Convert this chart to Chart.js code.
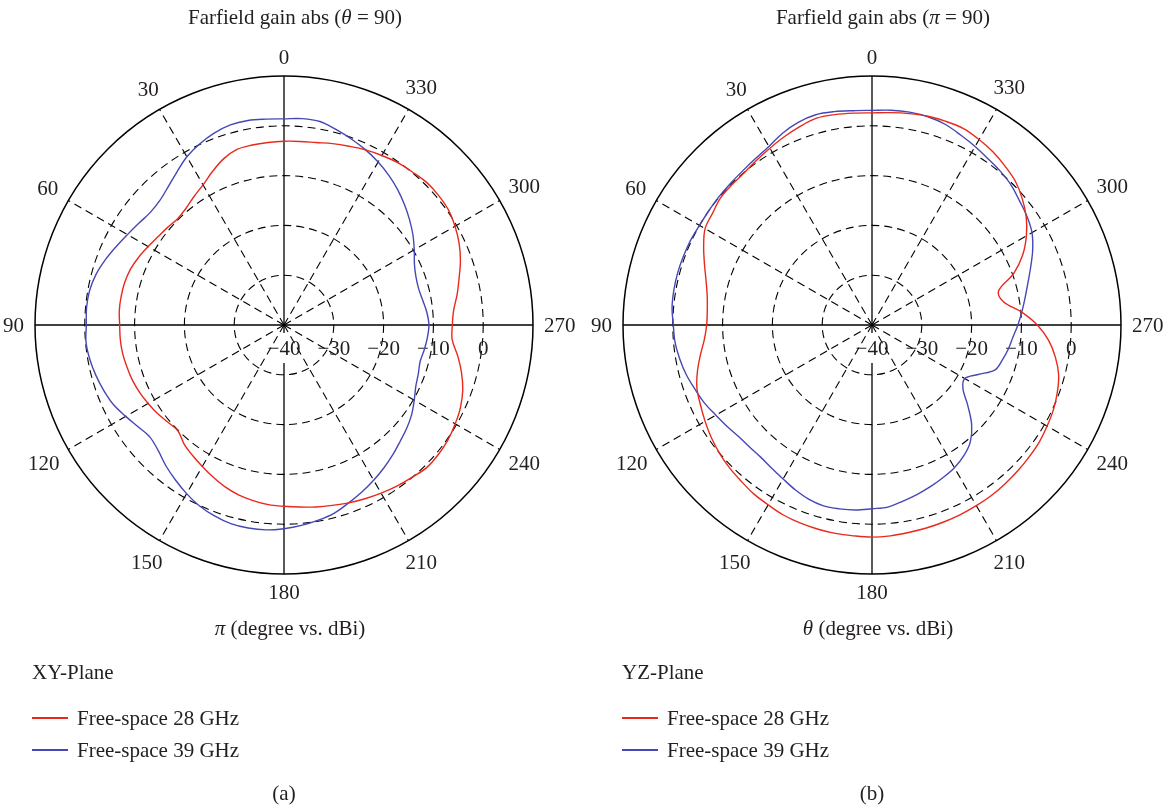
<!DOCTYPE html>
<html>
<head>
<meta charset="utf-8">
<script src="https://cdn.jsdelivr.net/npm/chart.js@4"></script>
<style>
html,body{margin:0;padding:0;background:#fff;}
#wrap{position:relative;width:1164px;height:808px;overflow:hidden;font-family:"Liberation Serif","DejaVu Serif",serif;color:#231f20;}
canvas{position:absolute;top:0;}
.t{position:absolute;font-size:21px;white-space:nowrap;transform:translate(-50%,-50%);line-height:1;}
.l{position:absolute;font-size:21px;white-space:nowrap;transform:translateY(-50%);line-height:1;}
.sw{position:absolute;height:2px;width:36px;}
</style>
</head>
<body>
<div id="wrap">
  <canvas id="c1" width="582" height="808" style="left:0;width:582px;height:808px"></canvas>
  <canvas id="c2" width="582" height="808" style="left:582px;width:582px;height:808px"></canvas>
</div>
<script>
// ---- categories: angle in degrees (0..355, step 5) ----
const angles = Array.from({length: 72}, (_, i) => i * 5);

// ---- gain values (dBi), one per angle ----
// (a) XY-plane, phi sweep
const xy28 = [
  -3.1,-3.2,-3.3,-3.5,-4.5,-6.0,-7.5,-8.5,-9.4,-9.8,-9.5,-9.1,
  -8.5,-7.8,-7.2,-6.9,-6.8,-6.8,-7.0,-7.0,-7.1,-7.35,-7.6,-8.0,
  -8.5,-9.0,-9.6,-9.9,-8.8,-8.0,-7.2,-6.3,-5.4,-4.7,-4.2,-3.8,
  -3.6,-3.3,-2.9,-2.5,-2.0,-1.5,-1.0,-0.5,-0.05,0.5,0.45,0.2,
  -0.3,-0.9,-1.8,-3.1,-4.6,-6.1,-6.2,-5.8,-4.7,-3.6,-2.3,-1.2,
  -0.35,0.3,0.5,0.5,0.1,-0.2,-0.7,-1.2,-1.8,-2.3,-2.8,-3.0
];
const xy39 = [
  1.4,1.5,1.7,1.6,1.0,0.1,-1.0,-2.5,-3.8,-4.7,-4.9,-4.4,
  -3.7,-2.8,-1.8,-0.9,-0.35,-0.2,-0.3,-0.1,-0.4,-0.9,-1.5,-2.2,
  -3.3,-4.3,-4.9,-4.3,-3.1,-2.0,-0.9,0.1,0.8,1.3,1.4,1.3,
  0.9,0.4,-0.2,-0.9,-2.0,-3.0,-4.0,-5.0,-6.0,-7.0,-7.8,-8.7,
  -9.8,-10.8,-11.3,-11.7,-11.4,-11.1,-10.9,-11.2,-11.7,-12.0,-11.8,-11.1,
  -9.8,-8.4,-7.1,-5.8,-4.5,-3.3,-2.2,-1.2,-0.3,0.6,1.5,1.6
];
// (b) YZ-plane, theta sweep
const yz28 = [
  2.6,2.7,2.9,3.0,2.4,1.7,1.0,0.4,-0.1,-0.2,-0.3,-0.9,
  -1.3,-2.7,-4.2,-5.5,-6.4,-6.8,-6.8,-6.2,-5.0,-3.7,-2.6,-2.0,
  -1.3,-0.6,0.0,0.5,0.9,1.4,1.7,2.1,2.3,2.4,2.5,2.5,
  2.6,2.5,2.3,2.2,2.1,2.0,1.9,1.8,1.6,1.4,1.2,1.0,
  0.6,0.2,-0.4,-1.2,-2.6,-4.4,-6.8,-9.9,-13.2,-13.7,-9.7,-6.6,
  -4.2,-2.2,-0.6,0.75,1.6,2.4,3.0,3.5,3.5,3.4,3.1,2.8
];
const yz39 = [
  3.1,3.2,3.5,3.7,3.3,2.5,1.4,0.8,0.4,0.2,0.1,0.0,
  0.0,0.2,0.3,0.4,0.4,0.3,-0.1,-0.3,-0.8,-1.4,-2.2,-2.9,
  -3.8,-4.5,-5.1,-5.3,-5.3,-4.9,-4.3,-3.5,-2.8,-2.4,-2.5,-2.7,
  -3.1,-3.3,-4.1,-4.8,-5.5,-6.2,-6.9,-7.9,-9.3,-11.7,-14.9,-17.7,
  -18.5,-16.5,-13.7,-12.9,-12.2,-11.6,-10.7,-9.8,-8.8,-7.6,-6.1,-4.4,
  -2.9,-2.0,-1.3,-0.4,0.2,0.7,1.4,2.1,2.9,3.3,3.4,3.3
];

// ---- tick labels ----
const ringTicks = [-40, -30, -20, -10, 0];
const angleTicks = [0, 30, 60, 90, 120, 150, 180, 210, 240, 270, 300, 330];
const seriesNames = ['Free-space 28 GHz', 'Free-space 39 GHz'];
const seriesColors = ['#e8291c', '#4548b4'];

const FONT = '"Liberation Serif","DejaVu Serif",serif';
const TEXT = '#231f20';

const textPlugin = {
  id: 'polarText',
  beforeDatasetsDraw(chart) {
    const s = chart.scales.r;
    const ctx = chart.ctx;
    ctx.save();
    ctx.font = '21px ' + FONT;
    ctx.fillStyle = TEXT;
    ctx.textAlign = 'center';
    ctx.textBaseline = 'middle';
    // radial tick labels, along the 270 direction (to the right), below the axis
    ringTicks.forEach(v => {
      const x = s.xCenter + s.getDistanceFromCenterForValue(v);
      const y = s.yCenter + 24;
      const txt = v < 0 ? '\u2212' + Math.abs(v) : String(v);
      if (v === s.min) {
        ctx.fillStyle = '#fff';
        ctx.fillRect(x - 4, s.yCenter + 8, 8, 30);
        ctx.fillStyle = TEXT;
      }
      ctx.fillText(txt, x, y);
    });
    // angle labels outside the outer circle
    const R = s.getDistanceFromCenterForValue(s.max);
    const n = angles.length;
    angleTicks.forEach(a => {
      const idx = (n - angles.indexOf(a)) % n;
      const txt = String(a);
      const w = ctx.measureText(txt).width;
      const h = 15;
      const th = a * Math.PI / 180;
      const d = R + 11 + Math.abs(Math.sin(th)) * w / 2 + Math.abs(Math.cos(th)) * h / 2;
      const p = s.getPointPosition(idx, d);
      ctx.fillText(txt, p.x, p.y + 1);
    });
    ctx.restore();
  }
};

function makeChart(id, s28, s39, pad) {
  const n = angles.length;
  // radar runs clockwise from the top; the plot's angles run counter-clockwise
  const order = angles.map((_, i) => (n - i) % n);
  const chartLabels = order.map(k => angles[k]);
  const sets = [s28, s39].map((arr, j) => ({
    label: seriesNames[j],
    data: order.map(k => arr[k]),
    borderColor: seriesColors[j],
    backgroundColor: seriesColors[j],
    borderWidth: 1.4,
    fill: false,
    tension: 0.35,
    pointRadius: 0,
    pointHoverRadius: 0
  }));
  const angOf = c => Number(c.label);
  return new Chart(document.getElementById(id), {
    type: 'radar',
    data: {labels: chartLabels, datasets: sets},
    options: {
      responsive: false,
      maintainAspectRatio: false,
      animation: false,
      devicePixelRatio: 1,
      events: [],
      layout: {padding: pad},
      plugins: {legend: {display: false}, tooltip: {enabled: false}, title: {display: false}},
      scales: {
        r: {
          min: -40, max: 10, startAngle: 0,
          ticks: {display: false, stepSize: 10},
          pointLabels: {display: false},
          grid: {
            circular: true,
            color: '#000',
            lineWidth: c => (c.tick && c.tick.value === -40) ? 0 : (c.tick && c.tick.value === 10 ? 1.5 : 1.1),
            borderDash: c => (c.tick && c.tick.value === 10) ? [] : [8, 5]
          },
          border: {
            dash: c => (c.tick && c.tick.value === 10) ? [] : [8, 5]
          },
          angleLines: {
            display: true,
            color: '#000',
            lineWidth: c => { const a = angOf(c); return a % 90 === 0 ? 1.3 : (a % 30 === 0 ? 1.1 : 0); },
            borderDash: c => { const a = angOf(c); return a % 90 === 0 ? [] : [8, 5]; }
          }
        }
      }
    },
    plugins: [textPlugin]
  });
}

makeChart('c1', xy28, xy39, {left: 35, top: 76, right: 49, bottom: 234});
makeChart('c2', yz28, yz39, {left: 41, top: 76, right: 43, bottom: 234});

// ---- HTML text: titles, axis labels, legends, panel tags ----
const wrap = document.getElementById('wrap');
function addText(cls, html, x, y) {
  const d = document.createElement('div');
  d.className = cls;
  d.innerHTML = html;
  d.style.left = x + 'px';
  d.style.top = y + 'px';
  wrap.appendChild(d);
  return d;
}
const panels = [
  {cx: 284, title: 'Farfield gain abs (<i>θ</i> = 90)', xlabel: '<i>π</i> (degree vs. dBi)', plane: 'XY-Plane', tag: '(a)', lx: 32},
  {cx: 872, title: 'Farfield gain abs (<i>π</i> = 90)', xlabel: '<i>θ</i> (degree vs. dBi)', plane: 'YZ-Plane', tag: '(b)', lx: 622}
];
panels.forEach(p => {
  addText('t', p.title, p.cx + 11, 17);
  addText('t', p.xlabel, p.cx + 6, 628);
  addText('l', p.plane, p.lx, 672);
  seriesNames.forEach((name, j) => {
    const y = 718 + j * 32;
    const sw = document.createElement('div');
    sw.className = 'sw';
    sw.style.left = p.lx + 'px';
    sw.style.top = (y - 1) + 'px';
    sw.style.background = seriesColors[j];
    wrap.appendChild(sw);
    addText('l', name, p.lx + 45, y);
  });
  addText('t', p.tag, p.cx, 793);
});
</script>
</body>
</html>
